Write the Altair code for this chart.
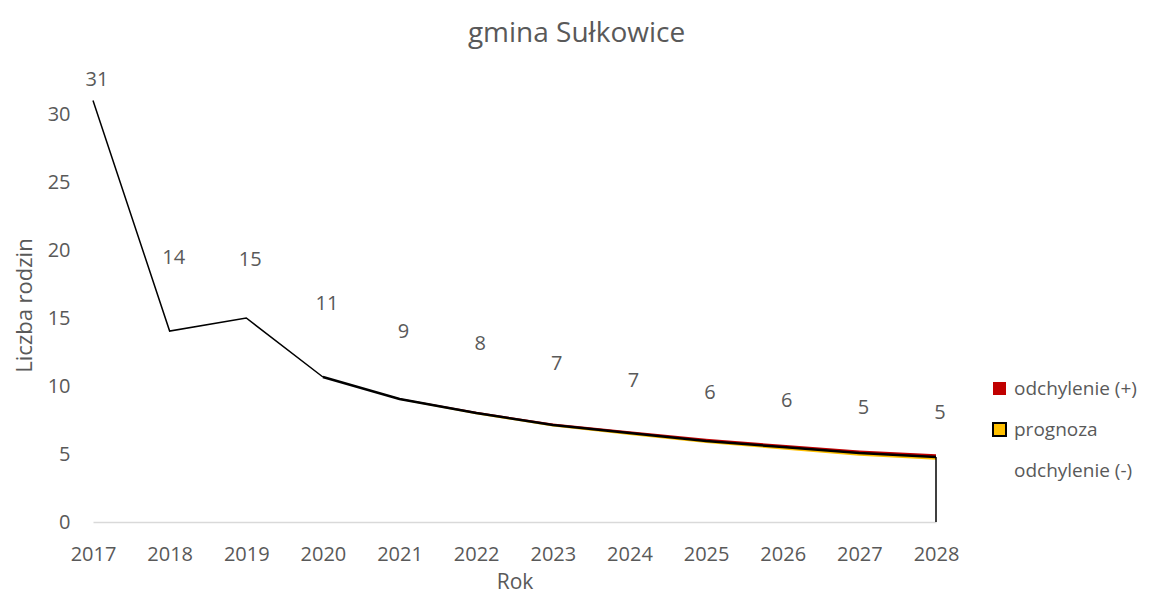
import altair as alt
import pandas as pd

FONT = "Open Sans"
GREY = "#595959"

# ---- data ----
years = [2017, 2018, 2019, 2020, 2021, 2022, 2023, 2024, 2025, 2026, 2027, 2028]
values = [31.0, 14.04, 15.0, 10.66, 9.04, 8.01, 7.13, 6.54, 5.96, 5.51, 5.07, 4.78]
label_text = ["31", "14", "15", "11", "9", "8", "7", "7", "6", "6", "5", "5"]
label_y = [32.5, 19.4, 19.3, 16.0, 14.0, 13.1, 11.6, 10.4, 9.5, 8.9, 8.4, 8.0]

hist_years = [2017, 2018, 2019, 2020]
hist_values = [31.0, 14.04, 15.0, 10.66]

fc_years = [2020, 2021, 2022, 2023, 2024, 2025, 2026, 2027, 2028]
fc_mid = [10.66, 9.04, 8.01, 7.13, 6.54, 5.96, 5.51, 5.07, 4.78]
fc_upper = [10.66, 9.10, 8.10, 7.25, 6.68, 6.12, 5.68, 5.26, 4.98]
fc_lower = [10.66, 8.98, 7.92, 7.02, 6.40, 5.80, 5.34, 4.88, 4.58]

series_names = ["odchylenie (+)", "prognoza", "odchylenie (-)"]
series_colors = ["#C00000", "#FFC000", "transparent"]

y_ticks = [0, 5, 10, 15, 20, 25, 30]

# ---- tables ----
band_rows = []
for i, yr in enumerate(fc_years):
    band_rows.append({"Rok": yr, "series": series_names[0], "lo": fc_mid[i], "hi": fc_upper[i]})
    band_rows.append({"Rok": yr, "series": series_names[1], "lo": fc_lower[i], "hi": fc_mid[i]})
    band_rows.append({"Rok": yr, "series": series_names[2], "lo": 0, "hi": fc_lower[i]})
bands = pd.DataFrame(band_rows)

hist = pd.DataFrame({"Rok": hist_years, "v": hist_values})
fc = pd.DataFrame({"Rok": fc_years, "v": fc_mid})
lab = pd.DataFrame({"Rok": years, "v": values, "t": label_text, "ly": label_y})
last = pd.DataFrame({"Rok": [years[-1]], "v": [values[-1]], "zero": [0]})

x_scale = alt.Scale(domain=[2017, 2028], nice=False, zero=False)
y_scale = alt.Scale(domain=[0, 35], nice=False)

x_axis = alt.Axis(
    values=years, format="d", title="Rok", grid=False, ticks=False, tickSize=0,
    domainColor="#D9D9D9", domainWidth=1.5, labelColor=GREY, labelFont=FONT,
    labelFontSize=20, labelPadding=22, labelFlush=False,
    titleColor=GREY, titleFont=FONT, titleFontSize=21, titleFontWeight="normal",
    titleY=60, titleBaseline="middle",
)
y_axis = alt.Axis(
    values=y_ticks, title="Liczba rodzin", grid=False, ticks=False, tickSize=0,
    domain=False, labelColor=GREY, labelFont=FONT, labelFontSize=20, labelPadding=23,
    titleColor=GREY, titleFont=FONT, titleFontSize=22, titleFontWeight="normal",
    titleX=-69, titleY=259, titleBaseline="middle", titleAngle=-90,
)

area = alt.Chart(bands).mark_area(strokeWidth=0).encode(
    x=alt.X("Rok:Q", scale=x_scale, axis=x_axis),
    y=alt.Y("lo:Q", scale=y_scale, axis=y_axis),
    y2="hi:Q",
    fill=alt.Fill(
        "series:N",
        scale=alt.Scale(domain=series_names, range=series_colors),
        legend=alt.Legend(
            title=None, orient="none", legendX=897, legendY=333,
            symbolType="square", symbolSize=169, symbolStrokeWidth=2,
            symbolStrokeColor={"expr": "datum.label == 'prognoza' ? 'black' : 'transparent'"},
            labelFont=FONT, labelFontSize=19, labelColor=GREY, labelOffset=5,
            rowPadding=20, padding=0, symbolOpacity=1,
        ),
    ),
)

hist_line = alt.Chart(hist).mark_line(color="black", strokeWidth=1.5).encode(
    x=alt.X("Rok:Q", scale=x_scale), y=alt.Y("v:Q", scale=y_scale)
)
fc_line = alt.Chart(fc).mark_line(color="black", strokeWidth=2.5).encode(
    x=alt.X("Rok:Q", scale=x_scale), y=alt.Y("v:Q", scale=y_scale)
)
edge = alt.Chart(last).mark_rule(color="black", strokeWidth=1.5).encode(
    x=alt.X("Rok:Q", scale=x_scale), y=alt.Y("zero:Q", scale=y_scale), y2="v:Q"
)
labels = alt.Chart(lab).mark_text(
    font=FONT, fontSize=20, color=GREY, dx=4, baseline="middle", align="center"
).encode(
    x=alt.X("Rok:Q", scale=x_scale), y=alt.Y("ly:Q", scale=y_scale), text="t:N"
)

chart = alt.layer(area, edge, hist_line, fc_line, labels).properties(
    width=843,
    height=476,
    autosize=alt.AutoSizeParams(type="none"),
    padding={"left": 85, "top": 38, "right": 210, "bottom": 73},
    title=alt.TitleParams(
        "gmina Sułkowice", font=FONT, fontSize=28, fontWeight="normal", color=GREY,
        anchor="middle", frame="group", dx=62, offset=-2,
    ),
).configure_view(stroke=None)

chart.save("out.html", embed_options={"renderer": "svg", "actions": False})
